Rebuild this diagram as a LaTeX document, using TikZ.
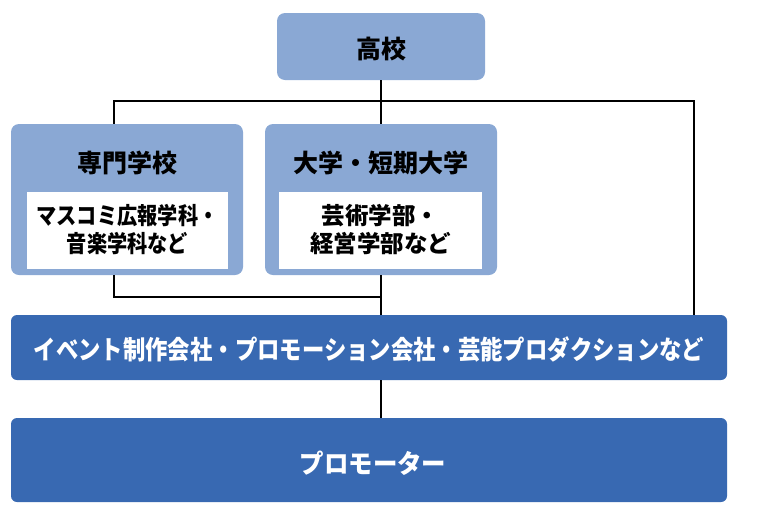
\documentclass[tikz,border=0pt]{standalone}
\usepackage{fontspec}
\usepackage{graphicx}
\setmainfont{Noto Sans CJK JP}
\definecolor{lb}{HTML}{8AA8D4}
\definecolor{db}{HTML}{3869B2}
\newcommand{\twoline}[3]{\scalebox{#1}[1]{\begin{tabular}{@{}c@{}}#2\\[-1pt]#3\end{tabular}}}
\begin{document}
\begin{tikzpicture}[x=1pt,y=-1pt,
  lightbox/.style={fill=lb, rounded corners=8pt, inner sep=0pt, draw=none},
  darkbox/.style={fill=db, rounded corners=6pt, inner sep=0pt, draw=none},
  whitebox/.style={fill=white, inner sep=0pt, draw=none},
  intext/.style={inner sep=0pt, font=\fontsize{23.5}{29}\selectfont\bfseries},
  ttl/.style={inner sep=0pt, font=\fontsize{25}{28}\selectfont\bfseries},
  dtext/.style={inner sep=0pt, text=white, font=\fontsize{26}{30}\selectfont\bfseries},
  conn/.style={line width=2pt, black}]
\useasboundingbox (0,0) rectangle (760,520);
\node[lightbox, minimum width=208pt, minimum height=67pt] (hs) at (381,46.5) {};
\node[lightbox, minimum width=232pt, minimum height=151pt] (sen) at (127,199.5) {};
\node[lightbox, minimum width=232pt, minimum height=151pt] (dai) at (381,199.5) {};
\node[darkbox, minimum width=716pt, minimum height=65pt] (ev) at (369,347.5) {};
\node[darkbox, minimum width=716pt, minimum height=84pt] (pr) at (369,460) {};
\node[whitebox, minimum width=201pt, minimum height=77pt] (senin) at (127.5,230.5) {};
\node[whitebox, minimum width=203pt, minimum height=77pt] (daiin) at (380.5,230.5) {};
\coordinate (bl) at (114,101);
\coordinate (br) at (694,101);
\coordinate (bm) at (114,297);
\draw[conn] (hs.south) -- (dai.north);
\draw[conn] (bl |- sen.north) -- (bl) -- (br) -- (br |- ev.north);
\draw[conn] (bl |- sen.south) -- (bm) -- (bm -| dai.south);
\draw[conn] (dai.south) -- (dai.south |- ev.north);
\draw[conn] (dai.south |- ev.south) -- (dai.south |- pr.north);
\node[ttl] (hst) at (381,49) {高校};
\node[ttl] (sent) at (127,163) {専門学校};
\node[ttl] (dait) at (381,163) {大学・短期大学};
\node[intext] (sentx) at (127.5,233) {\twoline{0.86}{マスコミ広報学科・}{音楽学科など}};
\node[intext] (daitx) at (380.5,233) {\twoline{1}{芸術学部・}{経営学部など}};
\node[dtext] (evt) at (369,349) {\scalebox{0.86}[1]{イベント制作会社・プロモーション会社・芸能プロダクションなど}};
\node[dtext] (prt) at (373,463) {\scalebox{0.94}[1]{プロモーター}};
\end{tikzpicture}
\end{document}
